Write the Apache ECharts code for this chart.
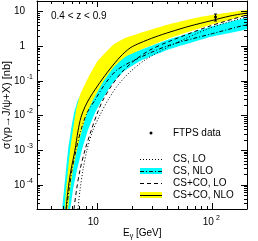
<!DOCTYPE html>
<html><head><meta charset="utf-8">
<script src="https://cdn.jsdelivr.net/npm/echarts@6/dist/echarts.min.js"></script>
<style>html,body{margin:0;padding:0;background:#fff}#c{width:258px;height:241px}</style>
</head><body><div id="c"></div>
<script>
// ---- data (E_gamma [GeV], sigma [nb]) ----
const ftpsE=[105], ftpsV=[6.9], ftpsLo=[5.3], ftpsHi=[8.4];
const csLO=[[6.81,2.0e-5],[7.09,7.08e-5],[7.53,2.67e-4],[8.15,1.01e-3],[9.20,3.80e-3],[10.58,0.0103],[12.41,0.0279],[15.16,0.0755],[19.28,0.179],[26.03,0.398],[42.92,1.007],[95.5,3.33],[200,6.91]];
const csNLO=[[5.41,2.0e-5],[5.69,7.08e-5],[6.04,2.67e-4],[6.55,1.01e-3],[7.23,3.80e-3],[8.15,0.0118],[9.57,0.0279],[11.69,0.0807],[14.86,0.205],[23.55,0.47],[42.92,1.076],[95.5,2.2],[200,4.2]];
const csNLOup=[[4.995,2.0e-5],[5.15,7.08e-5],[5.36,2.67e-4],[5.58,1.01e-3],[5.92,3.80e-3],[6.29,0.0118],[6.81,0.0279],[8.32,0.0922],[10.58,0.234],[14.28,0.454],[23.55,0.772],[42.92,1.60],[95.5,3.56],[200,6.47]];
const csNLOlo=[[5.81,2.0e-5],[6.16,7.08e-5],[6.68,2.67e-4],[7.38,1.01e-3],[8.32,3.80e-3],[9.57,0.0118],[11.01,0.0279],[13.45,0.0807],[16.76,0.179],[23.55,0.372],[42.92,0.825],[95.5,1.83],[200,3.11]];
const cocoLO=[[6.29,2.0e-5],[6.61,7.08e-5],[7.09,2.67e-4],[7.84,1.01e-3],[8.84,3.56e-3],[9.96,0.011],[11.23,0.0279],[13.45,0.0755],[16.43,0.179],[21.30,0.398],[28.77,0.772],[42.92,1.40],[95.5,3.80],[200,7.89]];
const cocoNLO=[[5.36,2.0e-5],[5.58,7.08e-5],[5.92,2.67e-4],[6.41,1.0e-3],[6.81,3.55e-3],[7.23,8.9e-3],[7.84,0.0178],[8.66,0.0331],[10.58,0.09],[12.92,0.22],[15.79,0.485],[19.28,0.882],[23.55,1.23],[31.79,1.83],[42.92,2.55],[64.03,3.80],[95.5,5.30],[142.5,7.39],[200,9.0]];
const cocoNLOup=[[5.25,2.0e-5],[5.36,7.08e-5],[5.58,2.67e-4],[5.81,1.01e-3],[6.16,3.80e-3],[6.55,0.0144],[7.09,0.0389],[8.32,0.120],[9.96,0.348],[13.72,1.076],[17.44,1.71],[23.55,2.39],[42.92,4.34],[78.2,6.91],[128.9,9.0],[200,11.0]];
const cocoNLOlo=[[5.58,2.0e-5],[5.81,7.08e-5],[6.16,2.67e-4],[6.68,1.01e-3],[7.38,3.80e-3],[8.15,0.0118],[9.20,0.0279],[11.23,0.0922],[13.72,0.234],[17.44,0.485],[23.55,0.772],[42.92,1.71],[95.5,4.06],[200,7.89]];
// ---- axes ----
const xMin=3, xMax=200, yMin=2e-5, yMax=20;
const xMajorTicks=[10,100];
const xMinorTicks=[4,5,6,7,8,9,20,30,40,50,60,70,80,90];
const yMajorTicks=[1e-4,1e-3,1e-2,1e-1,1,10];
const yMinorTicks=[3e-5,4e-5,5e-5,6e-5,7e-5,8e-5,9e-5,2e-4,3e-4,4e-4,5e-4,6e-4,7e-4,8e-4,9e-4,2e-3,3e-3,4e-3,5e-3,6e-3,7e-3,8e-3,9e-3,0.02,0.03,0.04,0.05,0.06,0.07,0.08,0.09,0.2,0.3,0.4,0.5,0.6,0.7,0.8,0.9,2,3,4,5,6,7,8,9];
const legendNames=['FTPS data','CS, LO','CS, NLO','CS+CO, LO','CS+CO, NLO'];
const rangeText='0.4 < z < 0.9';
const yTitle='σ(γp→J/ψ+X) [nb]';

const FONT='"Liberation Sans", Arial, Helvetica, sans-serif';
const chart=echarts.init(document.getElementById('c'),null,{renderer:'canvas'});

function expLabel(v){
  const l=Math.log10(v), r=Math.round(l);
  if(Math.abs(l-r)>1e-6) return '';
  if(r===0) return '{b|1}{s| }';
  if(r===1) return '{b|10}{s| }';
  return '{b|10}{s|'+r+'}';
}
const rich={b:{fontSize:10,fontFamily:FONT,color:'#000'},s:{fontSize:7,fontFamily:FONT,color:'#000',width:8,padding:[0,0,8,0]}};

function band(upper,lower,color,z){
  return {type:'custom',coordinateSystem:'cartesian2d',clip:true,silent:true,z:z,data:[upper[0]],
    renderItem:(p,api)=>{
      const pts=upper.map(q=>api.coord(q)).concat(lower.slice().reverse().map(q=>api.coord(q)));
      return {type:'polygon',shape:{points:pts,smooth:0.1},style:{fill:color,stroke:null}};
    }};
}
function line(data,type,z){
  return {type:'line',data:data,showSymbol:false,smooth:0.3,silent:true,z:z,clip:true,
    lineStyle:{color:'#000',width:1,type:type}};
}
const ticks={type:'custom',coordinateSystem:'cartesian2d',silent:true,z:10,data:[[10,1]],
  renderItem:(p,api)=>{
    const cs=p.coordSys, L=cs.x, R=cs.x+cs.width, T=cs.y, B=cs.y+cs.height, ch=[];
    const add=(x1,y1,x2,y2)=>ch.push({type:'line',shape:{x1,y1,x2,y2},style:{stroke:'#000',lineWidth:1}});
    const xt=(arr,len)=>arr.forEach(e=>{const x=Math.round(api.coord([e,1])[0])+0.5; add(x,B,x,B-len); add(x,T,x,T+len);});
    const yt=(arr,len)=>arr.forEach(v=>{const y=Math.round(api.coord([10,v])[1])+0.5; add(L,y,L+len,y); add(R,y,R-len,y);});
    xt(xMajorTicks,6); xt(xMinorTicks,3); yt(yMajorTicks,6); yt(yMinorTicks,3);
    return {type:'group',children:ch};
  }};
const dataPts={type:'custom',coordinateSystem:'cartesian2d',silent:true,z:12,
  data:ftpsE.map((e,i)=>[e,ftpsV[i],ftpsLo[i],ftpsHi[i]]),
  renderItem:(p,api)=>{
    const c=api.coord([api.value(0),api.value(1)]), lo=api.coord([api.value(0),api.value(2)]), hi=api.coord([api.value(0),api.value(3)]);
    const x=Math.round(c[0])+0.5;
    return {type:'group',children:[
      {type:'line',shape:{x1:x,y1:lo[1],x2:x,y2:hi[1]},style:{stroke:'#000',lineWidth:1}},
      {type:'line',shape:{x1:x-1.5,y1:lo[1],x2:x+1.5,y2:lo[1]},style:{stroke:'#000',lineWidth:1}},
      {type:'line',shape:{x1:x-1.5,y1:hi[1],x2:x+1.5,y2:hi[1]},style:{stroke:'#000',lineWidth:1}},
      {type:'circle',shape:{cx:x,cy:c[1],r:1.5},style:{fill:'#000'}}
    ]};
  }};

// legend (graphic)
const lx0=140, lx1=162, tx=173, rows=[133,159,171,183,195];
const g=[];
const txt=(x,y,t,fs,extra)=>Object.assign({type:'text',x:x,y:y,silent:true,style:{text:t,fontSize:fs||10,fontFamily:FONT,fill:'#000',textAlign:'left',textVerticalAlign:'middle'}},extra||{});
g.push({type:'circle',shape:{cx:151,cy:rows[0],r:1.5},style:{fill:'#000'},silent:true});
g.push({type:'line',shape:{x1:lx0,y1:rows[1]+0.5,x2:lx1,y2:rows[1]+0.5},style:{stroke:'#000',lineWidth:1,lineDash:[1,2]},silent:true});
g.push({type:'rect',shape:{x:lx0,y:rows[2]-3,width:lx1-lx0,height:6},style:{fill:'#00ffff'},silent:true});
g.push({type:'line',shape:{x1:lx0,y1:rows[2]+0.5,x2:lx1,y2:rows[2]+0.5},style:{stroke:'#000',lineWidth:1,lineDash:[4,2,1,2]},silent:true});
g.push({type:'line',shape:{x1:lx0,y1:rows[3]+0.5,x2:lx1,y2:rows[3]+0.5},style:{stroke:'#000',lineWidth:1,lineDash:[4,3]},silent:true});
g.push({type:'rect',shape:{x:lx0,y:rows[4]-3,width:lx1-lx0,height:6},style:{fill:'#ffff00'},silent:true});
g.push({type:'line',shape:{x1:lx0,y1:rows[4]+0.5,x2:lx1,y2:rows[4]+0.5},style:{stroke:'#000',lineWidth:1},silent:true});
legendNames.forEach((n,i)=>g.push(txt(tx,rows[i],n)));
g.push(txt(51,16,rangeText));
g.push({type:'text',x:7,y:105,rotation:Math.PI/2,silent:true,style:{text:yTitle,fontSize:11,fontFamily:FONT,fill:'#000',textAlign:'center',textVerticalAlign:'middle'}});
g.push({type:'text',x:123,y:233,silent:true,style:{text:'{a|E}{u|γ}{a| [GeV]}',fontFamily:FONT,fill:'#000',textAlign:'left',textVerticalAlign:'middle',
  rich:{a:{fontSize:10,fontFamily:FONT,color:'#000'},u:{fontSize:7,fontFamily:FONT,color:'#000',padding:[6,0,0,0]}}}});

const axBase={type:'log',logBase:10,splitLine:{show:false},axisTick:{show:false},minorTick:{show:false},
  axisLine:{show:true,lineStyle:{color:'#000',width:1}}};
chart.setOption({
  animation:false,
  grid:{left:37,right:11,top:1,bottom:32,containLabel:false},
  xAxis:[Object.assign({},axBase,{min:xMin,max:xMax,position:'bottom',
      axisLabel:{formatter:expLabel,rich:rich,margin:6,showMinLabel:true,showMaxLabel:true,hideOverlap:false}}),
    Object.assign({},axBase,{min:xMin,max:xMax,position:'top',axisLabel:{show:false}})],
  yAxis:[Object.assign({},axBase,{min:yMin,max:yMax,position:'left',
      axisLabel:{formatter:expLabel,rich:rich,margin:4,hideOverlap:false}}),
    Object.assign({},axBase,{min:yMin,max:yMax,position:'right',axisLabel:{show:false}})],
  graphic:g,
  series:[
    band(csNLOup,csNLOlo,'#00ffff',1),
    band(cocoNLOup,cocoNLOlo,'#ffff00',2),
    line(csLO,[1,2],3),
    line(csNLO,[4,2,1,2],3),
    line(cocoLO,[4,3],3),
    line(cocoNLO,'solid',3),
    dataPts,
    ticks
  ]
});
</script></body></html>
